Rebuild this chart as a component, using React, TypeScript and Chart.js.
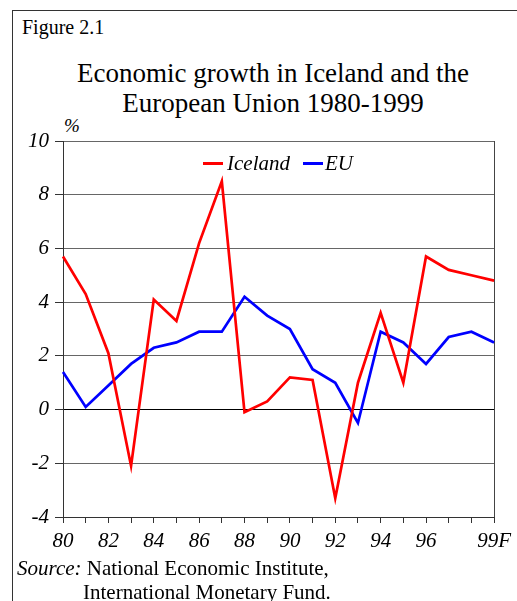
import React, { useEffect, useRef } from "react";
import { Chart, registerables } from "chart.js";

Chart.register(...registerables);

const years = ["80","81","82","83","84","85","86","87","88","89","90","91","92","93","94","95","96","97","98","99F"];
const iceland = [5.7, 4.3, 2.1, -2.1, 4.1, 3.3, 6.2, 8.5, -0.1, 0.3, 1.2, 1.1, -3.3, 1.0, 3.6, 1.0, 5.7, 5.2, 5.0, 4.8];
const eu = [1.4, 0.1, 0.9, 1.7, 2.3, 2.5, 2.9, 2.9, 4.2, 3.5, 3.0, 1.5, 1.0, -0.5, 2.9, 2.5, 1.7, 2.7, 2.9, 2.5];
const yMin = -4;
const yMax = 10;
const yStep = 2;

const SERIF = "'Liberation Serif', 'Times New Roman', serif";

export default function App() {
  const ref = useRef<HTMLCanvasElement | null>(null);

  useEffect(() => {
    if (!ref.current) return;
    const last = years.length - 1;
    const chart = new Chart(ref.current, {
      type: "line",
      data: {
        labels: years,
        datasets: [
          { label: "Iceland", data: iceland, borderColor: "#ff0000", borderWidth: 2.7, pointRadius: 0, tension: 0, fill: false },
          { label: "EU", data: eu, borderColor: "#0000ff", borderWidth: 2.7, pointRadius: 0, tension: 0, fill: false },
        ],
      },
      options: {
        animation: false,
        responsive: false,
        devicePixelRatio: 1,
        layout: { padding: { top: 21, right: 21, left: 0, bottom: 0 } },
        plugins: { legend: { display: false }, tooltip: { enabled: false }, title: { display: false } },
        scales: {
          x: {
            type: "category",
            offset: false,
            afterFit: (s: any) => { s.height = 43; },
            border: { display: true, color: "#333", width: 1 },
            grid: {
              display: true,
              drawOnChartArea: true,
              drawTicks: true,
              tickLength: 6,
              color: (ctx: any) => (ctx.index === last ? "#444" : "rgba(0,0,0,0)"),
              tickColor: "#333",
              lineWidth: 1,
            },
            ticks: {
              autoSkip: false,
              maxRotation: 0,
              minRotation: 0,
              padding: 6,
              color: "#000",
              font: { family: SERIF, size: 21, style: "italic" },
              callback: (_v: any, i: number) => (i === last || (i % 2 === 0 && i <= 16) ? years[i] : ""),
            },
          },
          y: {
            min: yMin,
            max: yMax,
            afterFit: (s: any) => { s.width = 63; },
            border: { display: true, color: "#333", width: 1 },
            grid: {
              drawTicks: true,
              tickLength: 8,
              color: (ctx: any) => (ctx.tick && ctx.tick.value === 0 ? "#000" : "#666"),
              tickColor: "#333",
              lineWidth: 1,
            },
            ticks: {
              stepSize: yStep,
              padding: 6,
              color: "#000",
              font: { family: SERIF, size: 21, style: "italic" },
            },
          },
        },
      },
    });
    return () => chart.destroy();
  }, []);

  const txt: React.CSSProperties = { position: "absolute", fontFamily: SERIF, color: "#000", whiteSpace: "nowrap", margin: 0 };

  return (
    <div style={{ position: "fixed", left: 0, top: 0, width: 517, height: 601, overflow: "hidden", background: "#fff" }}>
      <div style={{ position: "absolute", left: 12, top: 10, width: 600, height: 700, borderLeft: "1px solid #333", borderTop: "1px solid #333" }} />
      <div style={{ ...txt, left: 22, top: 17, fontSize: 20, lineHeight: "20px" }}>Figure 2.1</div>
      <div style={{ ...txt, left: 73, top: 58, width: 400, textAlign: "center", fontSize: 27, lineHeight: "30px" }}>
        Economic growth in Iceland and the<br />European Union 1980-1999
      </div>
      <div style={{ ...txt, left: 64, top: 116, fontSize: 19, lineHeight: "19px", fontStyle: "italic" }}>%</div>
      <canvas ref={ref} width={517} height={440} style={{ position: "absolute", left: 0, top: 120, width: 517, height: 440 }} />
      <div style={{ ...txt, left: 203, top: 153, fontSize: 21, lineHeight: "21px", fontStyle: "italic", display: "flex", alignItems: "center" }}>
        <span style={{ display: "inline-block", width: 20, height: 3, background: "#ff0000", marginRight: 4 }} />
        <span>Iceland</span>
        <span style={{ display: "inline-block", width: 20, height: 3, background: "#0000ff", marginLeft: 13, marginRight: 2 }} />
        <span>EU</span>
      </div>
      <div style={{ ...txt, left: 17, top: 558, fontSize: 21, lineHeight: "21px" }}>
        <i>Source:</i> National Economic Institute,
      </div>
      <div style={{ ...txt, left: 83, top: 582, fontSize: 21, lineHeight: "21px" }}>International Monetary Fund.</div>
    </div>
  );
}
